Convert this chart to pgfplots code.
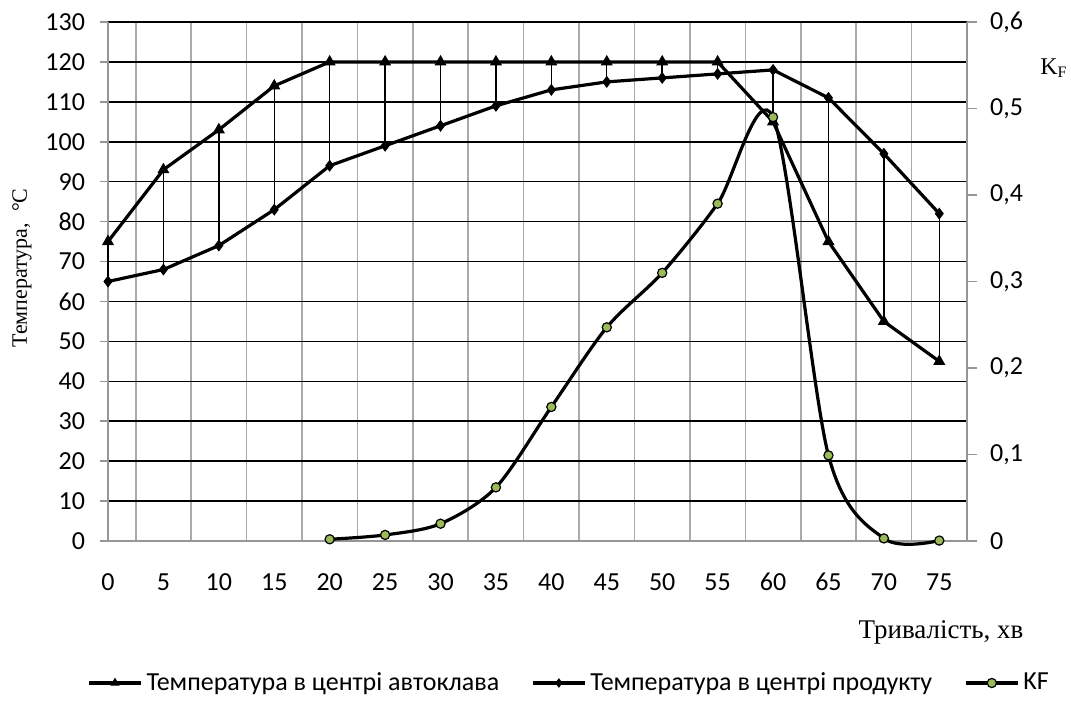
\documentclass[border=0pt]{standalone}
\usepackage{pgfplots}
\pgfplotsset{compat=1.18}
\usepackage{fontspec}
\setmainfont{Liberation Serif}
\newfontfamily\calib{Carlito}
\definecolor{kfgreen}{RGB}{155,187,89}
\definecolor{axgray}{RGB}{150,150,150}
\definecolor{gridgray}{RGB}{170,170,170}
\begin{document}
\begin{tikzpicture}
\useasboundingbox (0,0) rectangle (535.5pt,351pt);
\pgfplotsset{
  autoclave/.style={black, line width=1.6pt, mark=triangle*, mark size=3pt, mark options={solid, line width=0.5pt}},
  product/.style={black, line width=1.6pt, mark=diamond*, mark size=2.6pt, mark options={solid, line width=0.5pt}},
  kf/.style={black, line width=1.6pt, smooth, tension=0.5, mark=*, mark size=2.3pt, mark options={fill=kfgreen, draw=black, line width=0.6pt}},
}
\begin{axis}[
  at={(54pt,80.5pt)}, anchor=south west, scale only axis,
  width=429.5pt, height=259.5pt,
  xmin=0, xmax=15.5, ymin=0, ymax=130,
  axis x line*=bottom, axis y line*=left,
  axis line style={axgray, line width=0.8pt, -},
  xtick={0,...,15},
  xticklabels={0,5,10,15,20,25,30,35,40,45,50,55,60,65,70,75},
  major x tick style={draw=none},
  minor xtick={0.5,1.5,...,14.5},
  minor x tick style={draw=none},
  xminorgrids, minor x grid style={gridgray, line width=0.8pt},
  ytick={0,10,...,130},
  yticklabels={0,10,20,30,40,50,60,70,80,90,100,110,120,130},
  ymajorgrids, major y grid style={black, line width=0.8pt},
  y tick style={axgray, line width=0.8pt},
  tick align=outside, major tick length=4pt,
  ticklabel style={font=\calib\fontsize{13}{15}\selectfont},
  xticklabel style={anchor=base, yshift=-21pt},
  yticklabel style={xshift=-4pt},
  clip=false,
]
\addplot[black, line width=0.7pt, unbounded coords=jump, forget plot] coordinates {
 (0,75) (0,65) (0,nan)
 (1,93) (1,68) (1,nan)
 (2,103) (2,74) (2,nan)
 (3,114) (3,83) (3,nan)
 (4,120) (4,94) (4,nan)
 (5,120) (5,99) (5,nan)
 (6,120) (6,104) (6,nan)
 (7,120) (7,109) (7,nan)
 (8,120) (8,113) (8,nan)
 (9,120) (9,115) (9,nan)
 (10,120) (10,116) (10,nan)
 (11,120) (11,117) (11,nan)
 (12,105) (12,118) (12,nan)
 (13,75) (13,111) (13,nan)
 (14,55) (14,97) (14,nan)
 (15,45) (15,82)
};
\addplot[autoclave] coordinates {
 (0,75) (1,93) (2,103) (3,114) (4,120) (5,120) (6,120) (7,120) (8,120) (9,120) (10,120) (11,120) (12,105) (13,75) (14,55) (15,45)
};
\addplot[product] coordinates {
 (0,65) (1,68) (2,74) (3,83) (4,94) (5,99) (6,104) (7,109) (8,113) (9,115) (10,116) (11,117) (12,118) (13,111) (14,97) (15,82)
};
\end{axis}
\begin{axis}[
  at={(54pt,80.5pt)}, anchor=south west, scale only axis,
  width=429.5pt, height=259.5pt,
  xmin=0, xmax=15.5, ymin=0, ymax=0.6,
  axis x line=none, axis y line*=right,
  axis line style={axgray, line width=0.8pt, -},
  ytick={0,0.1,...,0.6},
  yticklabels={0,{0,1},{0,2},{0,3},{0,4},{0,5},{0,6}},
  y tick style={axgray, line width=0.8pt},
  tick align=outside, major tick length=5pt,
  ticklabel style={font=\calib\fontsize{13}{15}\selectfont},
  yticklabel style={xshift=3pt},
  clip=false,
  legend columns=3,
  legend style={draw=none, fill=none, at={(0.538,-0.2736)}, anchor=center,
    font=\calib\fontsize{13}{15}\selectfont,
    /tikz/every even column/.append style={column sep=14pt},
    inner sep=0pt, nodes={inner sep=2pt}},
  legend cell align=left,
  legend image code/.code={\draw[mark repeat=2,mark phase=2] plot coordinates {(0pt,0pt) (13pt,0pt) (26pt,0pt)};},
]
\addlegendimage{autoclave, mark size=2.2pt}
\addlegendentry{Температура в центрі автоклава}
\addlegendimage{product, mark size=2pt}
\addlegendentry{Температура в центрі продукту}
\addplot[kf] coordinates {
 (4,0.002) (5,0.007) (6,0.020) (7,0.062) (8,0.155) (9,0.247) (10,0.310) (11,0.390) (12,0.490) (13,0.099) (14,0.003) (15,0.0005)
};
\addlegendentry{KF}
\end{axis}
\node[rotate=90, font=\fontsize{11}{13}\selectfont] at (11pt,217pt) {Температура,\ \ °С};
\node[font=\fontsize{13.5}{15}\selectfont] at (470.5pt,35pt) {Тривалість, хв};
\node[font=\fontsize{12}{14}\selectfont] at (527pt,317pt) {K\textsubscript{F}};
\end{tikzpicture}
\end{document}
